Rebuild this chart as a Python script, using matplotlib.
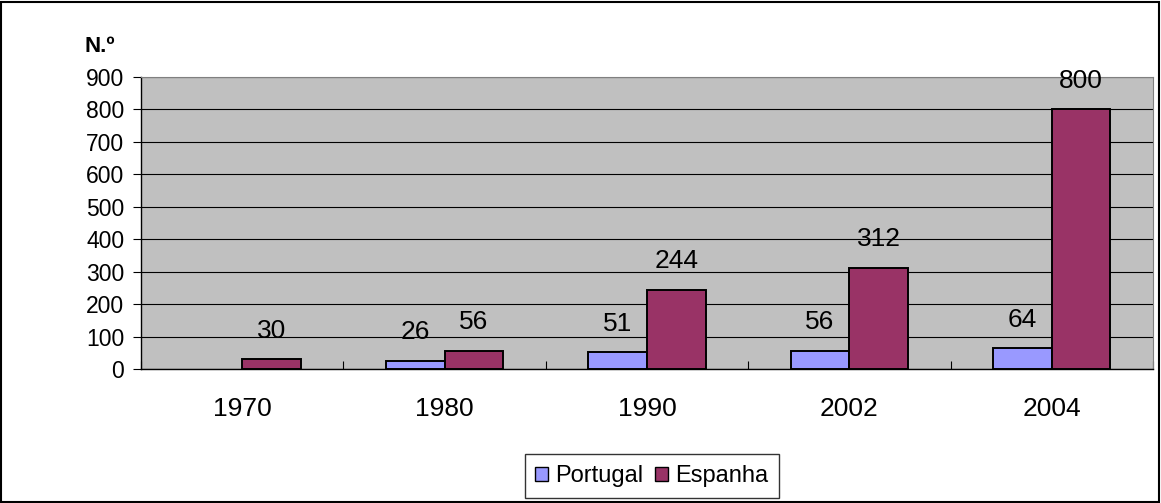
import matplotlib.pyplot as plt
import numpy as np
from matplotlib.patches import Patch, Rectangle

anos = ["1970", "1980", "1990", "2002", "2004"]
portugal = [None, 26, 51, 56, 64]
espanha = [30, 56, 244, 312, 800]

plt.rcParams['font.family'] = ['Liberation Sans', 'DejaVu Sans']

fig = plt.figure(figsize=(11.61, 5.03), dpi=100)
ax = fig.add_axes([0.1214, 0.2664, 0.8717, 0.5805])
ax.set_facecolor('#C0C0C0')

x = np.arange(len(anos))
w = 0.29
pt_vals = [np.nan if v is None else v for v in portugal]
ax.bar(x - w/2, pt_vals, w, color='#9999FF', edgecolor='black', linewidth=1.4, zorder=3)
ax.bar(x + w/2, espanha, w, color='#993366', edgecolor='black', linewidth=1.4, zorder=3)

for i, v in enumerate(portugal):
    if v is None:
        continue
    ax.annotate(str(v), (x[i] - w/2, v), xytext=(0, 12), textcoords='offset points',
                ha='center', va='bottom', fontsize=19, annotation_clip=False)
for i, v in enumerate(espanha):
    ax.annotate(str(v), (x[i] + w/2, v), xytext=(0, 12), textcoords='offset points',
                ha='center', va='bottom', fontsize=19, annotation_clip=False)

ax.set_xlim(-0.5, len(anos) - 0.5)
ax.set_ylim(0, 900)
ax.set_yticks(range(0, 901, 100))
ax.yaxis.grid(True, color='black', linewidth=0.8, zorder=1)
ax.set_axisbelow(True)

ax.set_xticks(x)
ax.set_xticklabels(anos)
ax.set_xticks(np.arange(-0.5, len(anos), 1), minor=True)
ax.tick_params(axis='x', which='major', length=0, pad=20, labelsize=19)
ax.tick_params(axis='x', which='minor', direction='in', length=6, width=0.8)
ax.tick_params(axis='y', direction='out', length=6, width=0.8, pad=6, labelsize=16.5)

ax.spines['top'].set_color('#808080')
ax.spines['right'].set_color('#808080')
ax.spines['left'].set_linewidth(1.0)
ax.spines['bottom'].set_linewidth(1.0)

fig.text(84 / 1161, 1 - 46 / 503, 'N.º', fontsize=16, fontweight='bold', va='center', ha='left')

handles = [Patch(facecolor='#9999FF', edgecolor='black', label='Portugal'),
           Patch(facecolor='#993366', edgecolor='black', label='Espanha')]
leg = fig.legend(handles=handles, loc='center', bbox_to_anchor=(652 / 1161, 1 - 476 / 503),
                 ncol=2, fontsize=17, frameon=True, fancybox=False, edgecolor='black',
                 handlelength=0.55, handleheight=0.55, handletextpad=0.3, columnspacing=0.5,
                 borderpad=0.45)
leg.get_frame().set_linewidth(1.0)

fig.patches.append(Rectangle((0.001, 0.002), 0.997, 0.995, transform=fig.transFigure,
                             fill=False, edgecolor='black', linewidth=1.5))

fig.savefig('out.png', dpi=100)
